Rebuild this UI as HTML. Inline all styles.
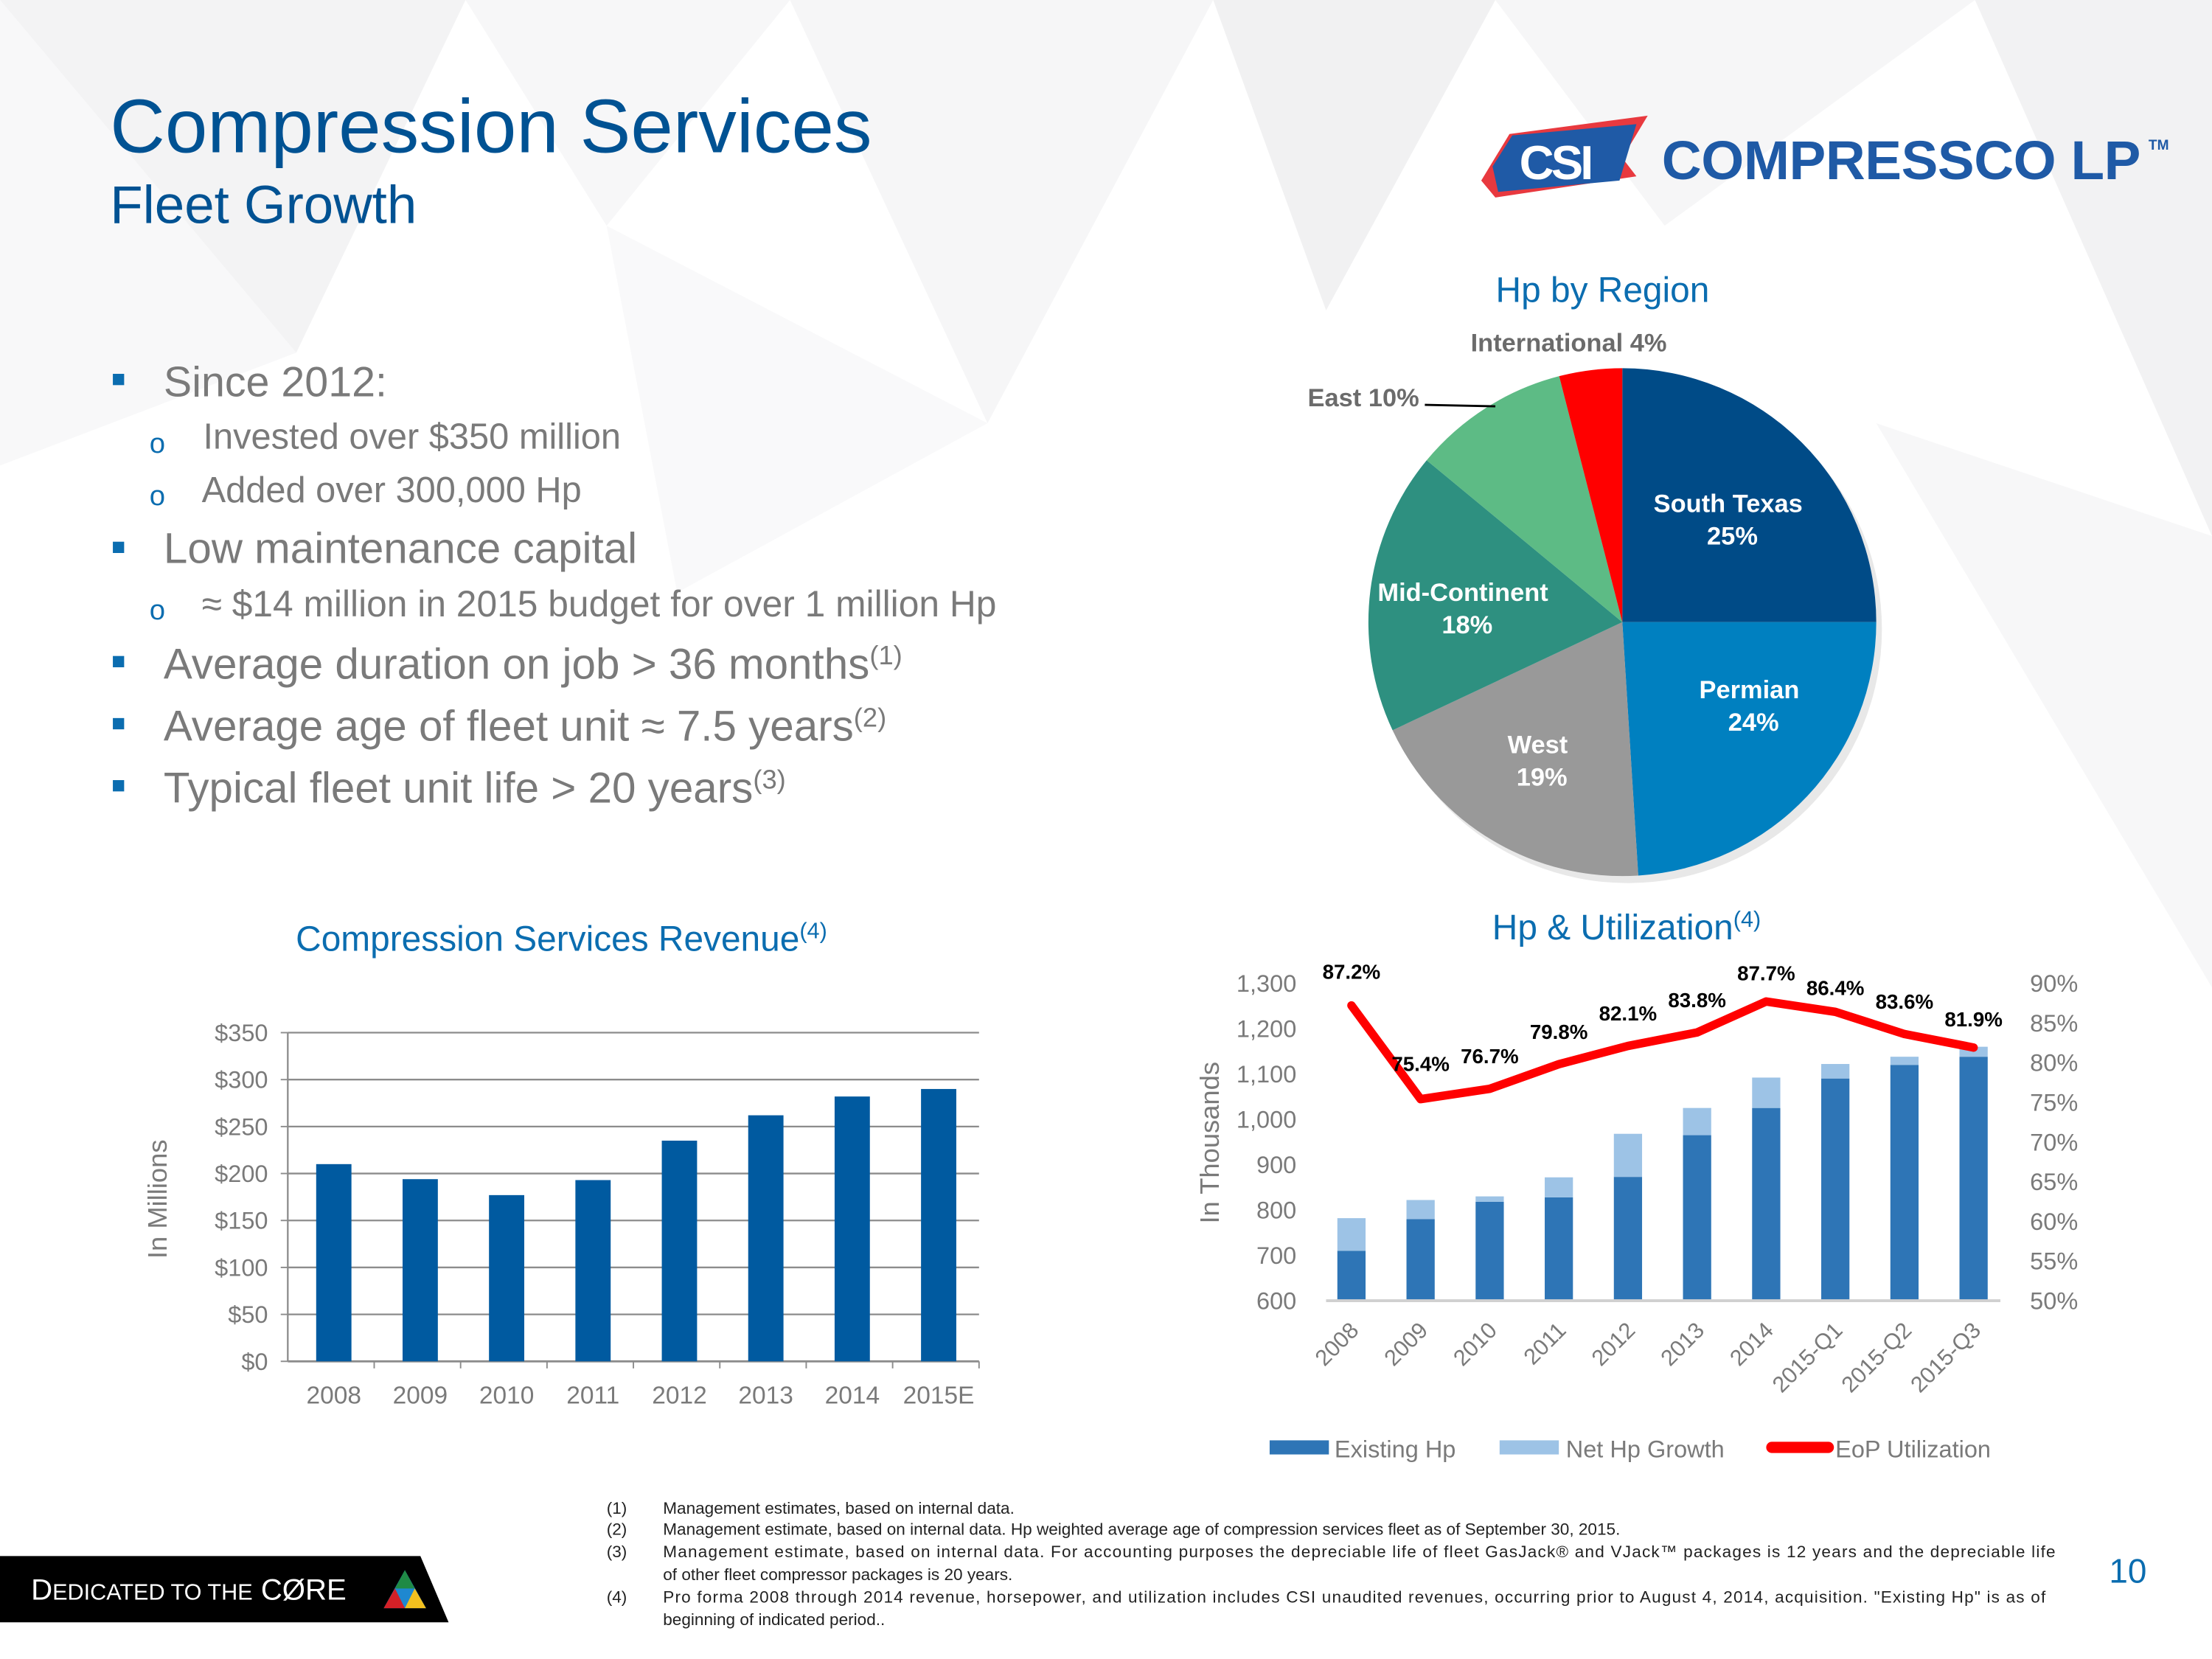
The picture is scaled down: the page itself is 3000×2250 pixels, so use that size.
<!DOCTYPE html>
<html><head><meta charset="utf-8">
<style>
html,body{margin:0;padding:0;background:#fff;}
svg{display:block;font-family:"Liberation Sans",Arial,sans-serif;}
</style></head>
<body>
<svg id="root" width="3000" height="2250" viewBox="0 0 1568 1176" xmlns="http://www.w3.org/2000/svg">
<rect x="0" y="0" width="1568" height="1176" fill="#ffffff"/>
<g>
  <polygon points="0,0 330,0 210,250" fill="#f3f3f4"/>
  <polygon points="330,0 560,0 430,160" fill="#f7f7f8"/>
  <polygon points="0,0 210,250 0,330" fill="#f8f8f9"/>
  <polygon points="560,0 860,0 700,300" fill="#f6f6f7"/>
  <polygon points="860,0 1060,0 940,220" fill="#f1f1f2"/>
  <polygon points="1060,0 1400,0 1180,160" fill="#f6f6f7"/>
  <polygon points="1400,0 1568,0 1568,380" fill="#f2f2f3"/>
  <polygon points="1330,300 1568,380 1568,700" fill="#f7f7f8"/>
  <polygon points="430,160 700,300 480,420" fill="#f9f9fa"/>
</g>

<text x="78" y="108" font-size="54" fill="#005293">Compression Services</text>
<text x="78" y="158" font-size="38" fill="#005293">Fleet Growth</text>

<g>
  <polygon points="1070,95 1168,82 1150,112 1160,125 1060,140 1050,128" fill="#e8393f"/>
  <polygon points="1072,96 1160,88 1148,128 1062,136 1058,118" fill="#1f5aa6"/>
  <text x="1077" y="127" font-size="34" font-weight="bold" fill="#ffffff" letter-spacing="-2">CSI</text>
  <text x="1178" y="127" font-size="39" font-weight="bold" fill="#1f5aa6" letter-spacing="0.5" textLength="340">COMPRESSCO LP</text>
  <text x="1523" y="106" font-size="10" font-weight="bold" fill="#1f5aa6">TM</text>
</g>

<g fill="#7a7a7a">
  <rect x="80" y="265" width="8" height="8" fill="#0b6db0"/>
  <text x="116" y="281" font-size="30">Since 2012:</text>
  <text x="106" y="321" font-size="20" fill="#0b6db0">o</text>
  <text x="144" y="318" font-size="25.5">Invested over $350 million</text>
  <text x="106" y="358" font-size="20" fill="#0b6db0">o</text>
  <text x="143" y="356" font-size="25.5">Added over 300,000 Hp</text>
  <rect x="80" y="384" width="8" height="8" fill="#0b6db0"/>
  <text x="116" y="399" font-size="30.5">Low maintenance capital</text>
  <text x="106" y="439" font-size="20" fill="#0b6db0">o</text>
  <text x="143" y="437" font-size="26">≈ $14 million in 2015 budget for over 1 million Hp</text>
  <rect x="80" y="465" width="8" height="8" fill="#0b6db0"/>
  <text x="116" y="481" font-size="30.5">Average duration on job &gt; 36 months<tspan font-size="19" dy="-10">(1)</tspan></text>
  <rect x="80" y="509" width="8" height="8" fill="#0b6db0"/>
  <text x="116" y="525" font-size="30.5">Average age of fleet unit  ≈  7.5 years<tspan font-size="19" dy="-10">(2)</tspan></text>
  <rect x="80" y="553" width="8" height="8" fill="#0b6db0"/>
  <text x="116" y="569" font-size="30.5">Typical fleet unit life &gt; 20 years<tspan font-size="19" dy="-10">(3)</tspan></text>
</g>

<text x="1136" y="214" font-size="25" fill="#0b6db0" text-anchor="middle">Hp by Region</text>
<g id="pie"></g>

<text x="398" y="674" font-size="25" fill="#0b6db0" text-anchor="middle">Compression Services Revenue<tspan font-size="16" dy="-9">(4)</tspan></text>
<g id="rev"></g>

<text x="1153" y="666" font-size="25" fill="#0b6db0" text-anchor="middle">Hp &amp; Utilization<tspan font-size="16" dy="-9">(4)</tspan></text>
<g id="hp"></g>

<g font-size="11.8" fill="#222">
  <text x="430" y="1073">(1)</text><text x="470" y="1073">Management estimates, based on internal data.</text>
  <text x="430" y="1088">(2)</text><text x="470" y="1088">Management estimate, based on internal data. Hp weighted average age of compression services fleet as of September  30, 2015.</text>
  <text x="430" y="1104">(3)</text><text x="470" y="1104" textLength="987">Management estimate, based on internal data. For accounting purposes the depreciable life of fleet GasJack® and VJack™ packages is 12 years  and the depreciable life</text>
  <text x="470" y="1120">of other fleet compressor packages is 20 years.</text>
  <text x="430" y="1136">(4)</text><text x="470" y="1136" textLength="980">Pro forma 2008 through 2014 revenue, horsepower, and utilization includes CSI unaudited revenues, occurring prior to August 4, 2014, acquisition.  "Existing Hp" is as of</text>
  <text x="470" y="1152">beginning of indicated period..</text>
</g>
<text x="1495" y="1122" font-size="24" fill="#0b6db0">10</text>

<g>
  <polygon points="0,1103 298,1103 318,1150 0,1150" fill="#000"/>
  <text x="22" y="1134" font-size="21" fill="#fff">D<tspan font-size="16">EDICATED TO THE</tspan> CØRE</text>
  <polygon points="287,1113 272,1140 302,1140" fill="#1e88d0"/>
  <polygon points="287,1113 280,1126 294,1126" fill="#1f8a45"/>
  <polygon points="280,1126 272,1140 287,1140" fill="#d42027"/>
  <polygon points="294,1126 287,1140 302,1140" fill="#f2c01e"/>
</g>
</svg>

<script>
var NS='http://www.w3.org/2000/svg';
function mk(tag,attrs,parent,txt){var e=document.createElementNS(NS,tag);for(var k in attrs)e.setAttribute(k,attrs[k]);if(txt!==undefined)e.textContent=txt;parent.appendChild(e);return e;}

/* ---------- Pie data ---------- */
var regions=['South Texas','Permian','West','Mid-Continent','East','International'];
var regionShares=[25,24,19,18,10,4];
var regionColors=['#004b87','#0080c0','#999999','#2e9080','#5dbb85','#ff0000'];

/* ---------- Revenue data ---------- */
var revYears=['2008','2009','2010','2011','2012','2013','2014','2015E'];
var revValues=[210,194,177,193,235,262,282,290];
var revTicks=[0,50,100,150,200,250,300,350];

/* ---------- Hp data ---------- */
var hpCats=['2008','2009','2010','2011','2012','2013','2014','2015-Q1','2015-Q2','2015-Q3'];
var existingHp=[710,780,818,828,873,965,1025,1090,1120,1138];
var netHpGrowth=[72,42,12,44,95,60,67,32,18,22];
var utilization=[87.2,75.4,76.7,79.8,82.1,83.8,87.7,86.4,83.6,81.9];
var hpTicks=[600,700,800,900,1000,1100,1200,1300];
var utilTicks=[50,55,60,65,70,75,80,85,90];

/* ---- Pie ---- */
(function(){
  var g=document.getElementById('pie');var cx=1150,cy=441,r=180;
  var total=regionShares.reduce(function(a,b){return a+b;},0);
  var a0=-Math.PI/2;
  mk('circle',{cx:cx+4,cy:cy+5,r:r,fill:'#d8d8d8',opacity:0.6},g);
  var labelPos=[[1225,363],[1240,495],[1090,534],[1037,426],null,null];
  for(var i=0;i<regionShares.length;i++){
    var a1=a0+regionShares[i]/total*2*Math.PI;
    var x0=cx+r*Math.cos(a0),y0=cy+r*Math.sin(a0),x1=cx+r*Math.cos(a1),y1=cy+r*Math.sin(a1);
    var large=(a1-a0)>Math.PI?1:0;
    var p=mk('path',{d:'M'+cx+','+cy+' L'+x0+','+y0+' A'+r+','+r+' 0 '+large+' 1 '+x1+','+y1+' Z',fill:regionColors[i]},g);
    
    
    if(labelPos[i]){
      var t=mk('text',{x:labelPos[i][0],y:labelPos[i][1],'font-size':18,'font-weight':'bold',fill:'#fff','text-anchor':'middle'},g);
      
      
      mk('tspan',{x:labelPos[i][0],dy:0},t,regions[i]);
      mk('tspan',{x:labelPos[i][0]+3,dy:23},t,regionShares[i]+'%');
    }
    a0=a1;
  }
  var t1=mk('text',{x:1112,y:249,'font-size':18,'font-weight':'bold',fill:'#6b6b6b','text-anchor':'middle'},g,regions[5]+' '+regionShares[5]+'%');
  
  
  var t2=mk('text',{x:1006,y:288,'font-size':18,'font-weight':'bold',fill:'#6b6b6b','text-anchor':'end'},g,regions[4]+' '+regionShares[4]+'%');
  
  
  mk('line',{x1:1010,y1:287,x2:1060,y2:288,stroke:'#000','stroke-width':1.5},g);
})();

/* ---- Revenue ---- */
(function(){
  var g=document.getElementById('rev');
  var x0=204,x1=694,yb=965,yt=732,vmax=350;
  function y(v){return yb-(v/vmax)*(yb-yt);}
  var step=(x1-x0)/revYears.length;
  function xc(i){return x0+step*(i+0.5)+2;}
  revTicks.forEach(function(v){
    var ln=mk('line',{x1:x0,x2:x1,y1:y(v),y2:y(v),stroke:'#8c8c8c','stroke-width':v===0?1.5:1.2},g);
    
    
    var t=mk('text',{x:190,y:y(v)+6,'font-size':17,fill:'#7a7a7a','text-anchor':'end'},g,'$'+v);
    
    
    mk('line',{x1:x0-5,x2:x0,y1:y(v),y2:y(v),stroke:'#8c8c8c'},g);
  });
  mk('line',{x1:x0,x2:x0,y1:yt,y2:yb,stroke:'#8c8c8c','stroke-width':1.2},g);
  revValues.forEach(function(v,i){
    var b=mk('rect',{x:xc(i)-12.5,y:y(v),width:25,height:yb-y(v),fill:'#005aa0'},g);
    
    
    var t=mk('text',{x:xc(i),y:995,'font-size':17.5,fill:'#7a7a7a','text-anchor':'middle'},g,revYears[i]);
    
    
    mk('line',{x1:x0+step*(i+1),x2:x0+step*(i+1),y1:yb,y2:yb+5,stroke:'#8c8c8c'},g);
  });
  var yl=mk('text',{x:118,y:850,'font-size':19,fill:'#7a7a7a','text-anchor':'middle',transform:'rotate(-90 118 850)'},g,'In Millions');
  
  
})();

/* ---- Hp & Utilization ---- */
(function(){
  var g=document.getElementById('hp');
  var yb=922,yt=697;
  function yL(v){return yb-(v-600)/700*(yb-yt);}
  function yR(v){return yb-(v-50)/40*(yb-yt);}
  function xc(i){return 958+i*49;}
  hpTicks.forEach(function(v){
    var t=mk('text',{x:919,y:yL(v)+6,'font-size':17,fill:'#7a7a7a','text-anchor':'end'},g,v.toLocaleString('en-US'));
    
    
  });
  utilTicks.forEach(function(v){
    var t=mk('text',{x:1439,y:yR(v)+6,'font-size':17,fill:'#7a7a7a'},g,v+'%');
    
    
  });
  var yl=mk('text',{x:864,y:810,'font-size':19,fill:'#7a7a7a','text-anchor':'middle',transform:'rotate(-90 864 810)'},g,'In Thousands');
  
  
  hpCats.forEach(function(c,i){
    var e=existingHp[i],n=netHpGrowth[i];
    var b1=mk('rect',{x:xc(i)-10,y:yL(e),width:20,height:yb-yL(e),fill:'#2e75b6'},g);
    
    
    var b2=mk('rect',{x:xc(i)-10,y:yL(e+n),width:20,height:yL(e)-yL(e+n),fill:'#9dc3e6'},g);
    
    
    var tx=xc(i)+6,ty=944;
    var t=mk('text',{x:tx,y:ty,'font-size':16,fill:'#7a7a7a','text-anchor':'end',transform:'rotate(-45 '+tx+' '+ty+')'},g,c);
    
    
  });
  mk('line',{x1:940,x2:1418,y1:yb,y2:yb,stroke:'#d0d0d0','stroke-width':2},g);
  var pts=utilization.map(function(v,i){return xc(i)+','+yR(v);}).join(' ');
  var pl=mk('polyline',{points:pts,fill:'none',stroke:'#ff0000','stroke-width':6,'stroke-linejoin':'round','stroke-linecap':'round'},g);
  
  
  var off=[[0,-19],[0,-20],[0,-18],[0,-18],[0,-18],[0,-18],[0,-15],[0,-12],[0,-18],[0,-15]];
  utilization.forEach(function(v,i){
    var t=mk('text',{x:xc(i)+off[i][0],y:yR(v)+off[i][1],'font-size':14.5,'font-weight':'bold',fill:'#000','text-anchor':'middle'},g,v.toFixed(1)+'%');
    
    
  });
  var lg=mk('g',{},g);
  
  
  mk('rect',{x:900,y:1021,width:42,height:10,fill:'#2e75b6'},lg);
  mk('text',{x:946,y:1033,'font-size':17,fill:'#7a7a7a'},lg,'Existing Hp');
  mk('rect',{x:1063,y:1021,width:42,height:10,fill:'#9dc3e6'},lg);
  mk('text',{x:1110,y:1033,'font-size':17,fill:'#7a7a7a'},lg,'Net Hp Growth');
  mk('line',{x1:1256,x2:1296,y1:1026,y2:1026,stroke:'#ff0000','stroke-width':8,'stroke-linecap':'round'},lg);
  mk('text',{x:1301,y:1033,'font-size':17,fill:'#7a7a7a'},lg,'EoP Utilization');
})();
</script>
</body></html>
